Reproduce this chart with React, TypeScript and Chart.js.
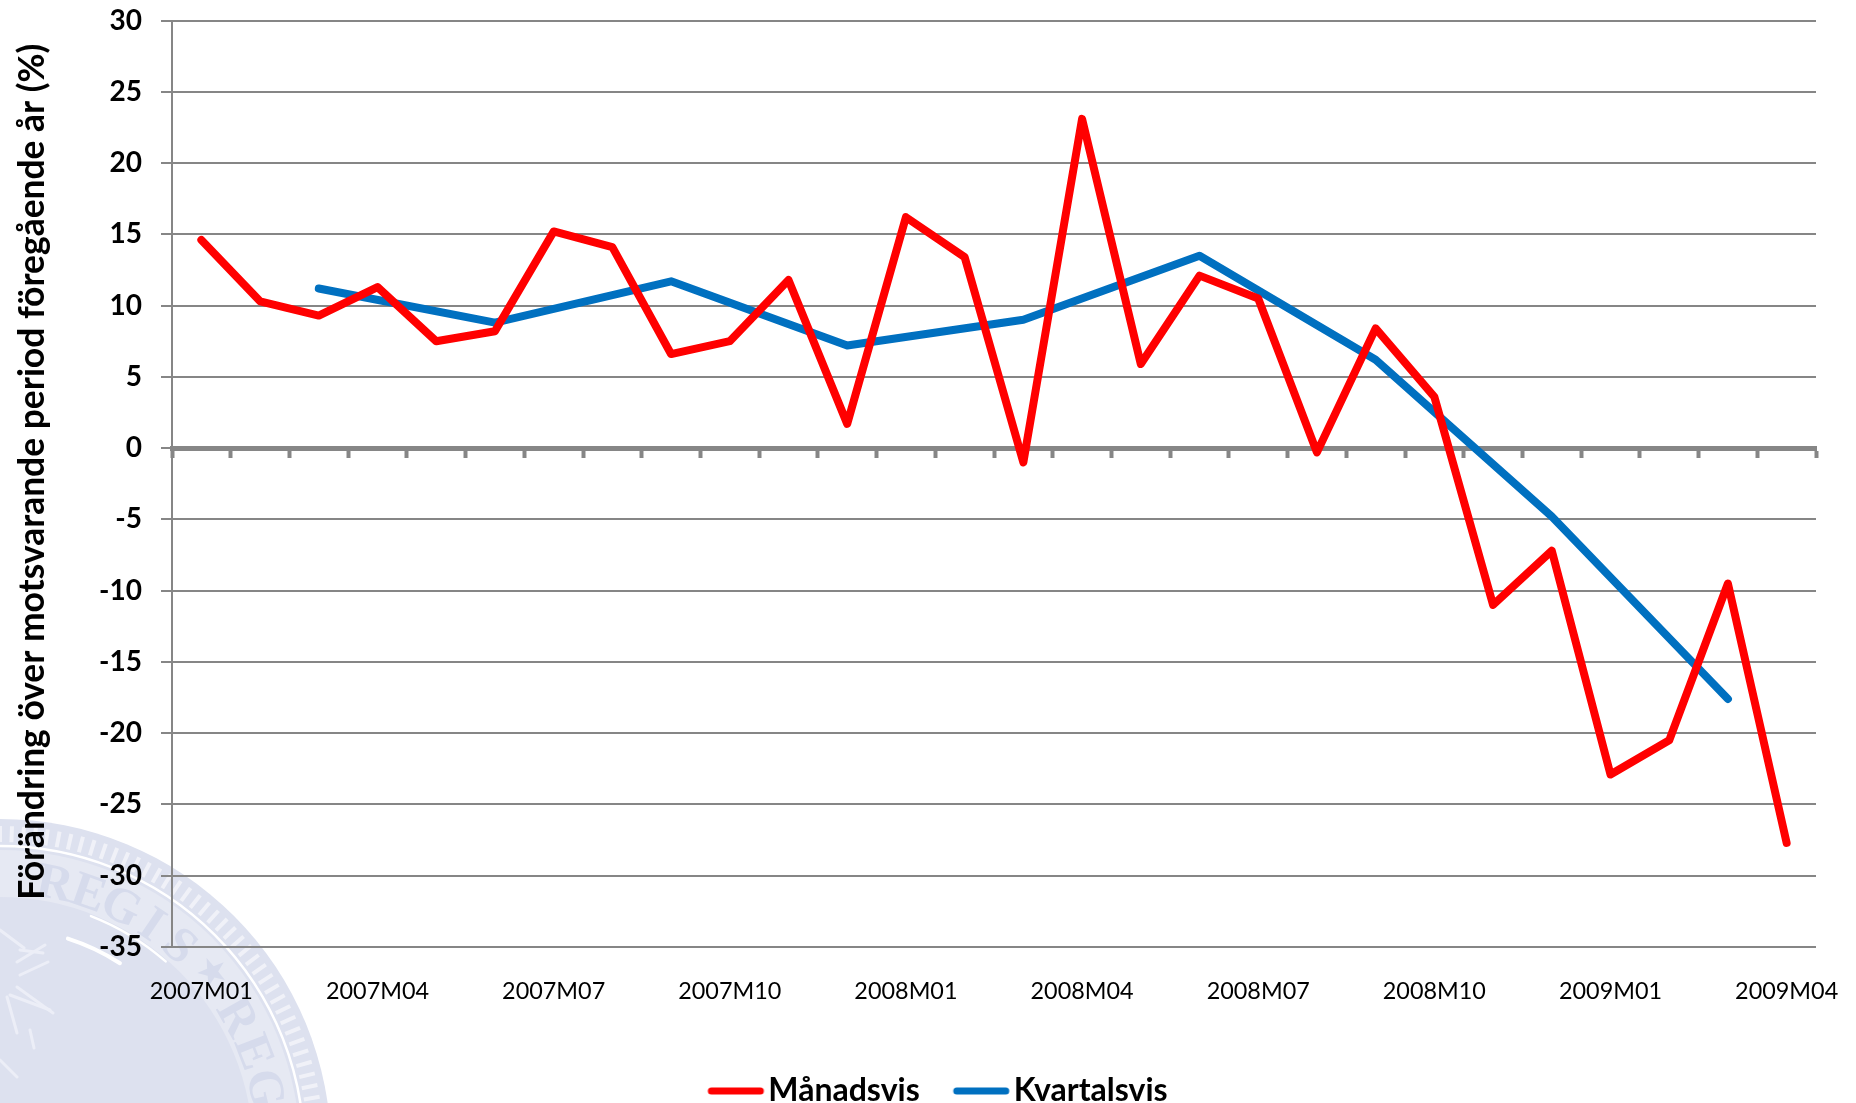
import React, { useEffect, useRef } from "react";
import { Chart, registerables } from "chart.js";

Chart.register(...registerables);

const months = [
  "2007M01","2007M02","2007M03","2007M04","2007M05","2007M06","2007M07","2007M08","2007M09","2007M10","2007M11","2007M12",
  "2008M01","2008M02","2008M03","2008M04","2008M05","2008M06","2008M07","2008M08","2008M09","2008M10","2008M11","2008M12",
  "2009M01","2009M02","2009M03","2009M04",
];
const monthly = [14.6,10.3,9.3,11.3,7.5,8.2,15.2,14.1,6.6,7.5,11.8,1.7,16.2,13.4,-1.0,23.1,5.9,12.1,10.5,-0.3,8.4,3.6,-11.0,-7.2,-22.9,-20.5,-9.5,-27.7];
const quarterly = [null,null,11.2,null,null,8.8,null,null,11.7,null,null,7.2,null,null,9.0,null,null,13.5,null,null,6.2,null,null,-4.8,null,null,-17.6,null];
const seriesNames = ["Månadsvis", "Kvartalsvis"];
const yTitle = "Förändring över motsvarande period föregående år (%)";
const sealWordTop = "REGIS";
const sealWordLower = "REG";

const GREY = "#868686";
const FONT = "Lato, 'Open Sans', sans-serif";

function arcText(ctx: CanvasRenderingContext2D, text: string, cx: number, cy: number, r: number, start: number, step: number) {
  [...text].forEach((ch, i) => {
    const a = start + i * step;
    ctx.save();
    ctx.translate(cx + r * Math.cos(a), cy + r * Math.sin(a));
    ctx.rotate(a + Math.PI / 2);
    ctx.fillText(ch, 0, 0);
    ctx.restore();
  });
}

const sealPlugin = {
  id: "seal",
  beforeDraw(chart: any) {
    const ctx: CanvasRenderingContext2D = chart.ctx;
    const cx = 0, cy = 1150;
    ctx.save();
    ctx.fillStyle = "#dde1ef";
    ctx.beginPath(); ctx.arc(cx, cy, 331, 0, Math.PI * 2); ctx.fill();
    ctx.strokeStyle = "rgba(255,255,255,0.55)";
    ctx.lineWidth = 4;
    for (let a = -Math.PI / 2; a < 0.05; a += 0.037) {
      ctx.beginPath();
      ctx.moveTo(cx + 308 * Math.cos(a), cy + 308 * Math.sin(a));
      ctx.lineTo(cx + 324 * Math.cos(a), cy + 324 * Math.sin(a));
      ctx.stroke();
    }
    ctx.strokeStyle = "#ffffff";
    ctx.lineWidth = 2.5;
    ctx.beginPath(); ctx.arc(cx, cy, 304, 0, Math.PI * 2); ctx.stroke();
    ctx.fillStyle = "#e6e9f3";
    ctx.beginPath(); ctx.arc(cx, cy, 300, 0, Math.PI * 2); ctx.fill();
    ctx.fillStyle = "#dde1ef";
    ctx.beginPath(); ctx.arc(cx, cy, 253, 0, Math.PI * 2); ctx.fill();
    ctx.fillStyle = "#d6dbec";
    ctx.font = `bold 50px 'Liberation Serif', serif`;
    ctx.textAlign = "center";
    ctx.textBaseline = "alphabetic";
    arcText(ctx, sealWordTop, cx, cy, 257, -1.368, 0.13);
    arcText(ctx, sealWordLower, cx, cy, 257, -0.511, 0.142);
    const sa = -0.698, sr = 277;
    const sx = cx + sr * Math.cos(sa), sy = cy + sr * Math.sin(sa);
    ctx.beginPath();
    for (let i = 0; i < 10; i++) {
      const r = i % 2 === 0 ? 15 : 6;
      const t = sa + (i * Math.PI) / 5;
      const px = sx + r * Math.cos(t), py = sy + r * Math.sin(t);
      if (i === 0) ctx.moveTo(px, py); else ctx.lineTo(px, py);
    }
    ctx.closePath();
    ctx.fill();
    ctx.strokeStyle = "#ffffff";
    ctx.lineCap = "round";
    ctx.lineWidth = 2.5;
    ctx.beginPath(); ctx.arc(cx, cy, 251, -1.2, -0.85); ctx.stroke();
    ctx.lineWidth = 4;
    ctx.beginPath(); ctx.arc(cx, cy, 222, -1.26, -1.0); ctx.stroke();
    ctx.strokeStyle = "#eceef7";
    ctx.lineWidth = 3;
    ([[20, 950, 43, 953], [17, 962, 45, 945], [20, 975, 48, 962], [17, 987, 53, 1013], [10, 995, 50, 1010], [7, 997, 17, 1033], [0, 1060, 17, 1077], [30, 1030, 34, 1048], [0, 930, 24, 948]] as number[][]).forEach(([a, b, c, d]) => {
      ctx.beginPath(); ctx.moveTo(a, b); ctx.lineTo(c, d); ctx.stroke();
    });
    ctx.restore();
  },
};

const layoutTweaks = {
  id: "layoutTweaks",
  afterLayout(chart: any) {
    const y = chart.scales.y;
    if (!y.__titleWrapped) {
      const orig = y.drawTitle;
      y.drawTitle = function () {
        this.bottom -= 24;
        orig.call(this);
        this.bottom += 24;
      };
      y.__titleWrapped = true;
    }
    const lg = chart.legend;
    lg.left += 30; lg.right += 30;
    lg.top += 14; lg.bottom += 14;
  },
};

function legendLine(color: string) {
  const c = document.createElement("canvas");
  c.width = 108; c.height = 12;
  const g = c.getContext("2d")!;
  g.strokeStyle = color;
  g.lineWidth = 7;
  g.lineCap = "round";
  g.beginPath(); g.moveTo(35, 6); g.lineTo(84, 6); g.stroke();
  return c;
}

export default function App() {
  const ref = useRef<HTMLCanvasElement>(null);
  useEffect(() => {
    document.body.style.margin = "0";
    const chart = new Chart(ref.current!, {
      type: "line",
      data: {
        labels: months,
        datasets: [
          { label: seriesNames[0], data: monthly, borderColor: "#ff0000", backgroundColor: "#ff0000", pointStyle: legendLine("#ff0000"), borderWidth: 8, pointRadius: 0, borderCapStyle: "round", borderJoinStyle: "round", tension: 0, xAxisID: "x" },
          { label: seriesNames[1], data: quarterly, borderColor: "#0070c0", backgroundColor: "#0070c0", pointStyle: legendLine("#0070c0"), borderWidth: 8, pointRadius: 0, borderCapStyle: "round", borderJoinStyle: "round", tension: 0, spanGaps: true, xAxisID: "x" },
        ],
      },
      options: {
        animation: false,
        responsive: false,
        layout: { padding: { top: 20.5, right: 40, left: 0, bottom: 0 } },
        plugins: {
          tooltip: { enabled: false },
          legend: {
            position: "bottom",
            labels: {
              usePointStyle: true,
              pointStyleWidth: 44,
              boxWidth: 44,
              boxHeight: 8,
              padding: 34,
              color: "#000000",
              font: { family: FONT, size: 32, weight: "bold" },
            },
          },
        },
        scales: {
          x: {
            type: "category",
            position: "bottom",
            offset: true,
            border: { display: false },
            grid: { display: false },
            ticks: {
              autoSkip: false,
              maxRotation: 0,
              padding: 22,
              color: "#000000",
              font: { family: FONT, size: 23.4 },
              callback: (_v: any, i: number) => (i % 3 === 0 ? months[i] : ""),
            },
            afterFit(s: any) { s.height = 80; s.paddingLeft = 0; s.paddingRight = 0; },
          },
          x2: {
            type: "category",
            axis: "x",
            labels: months,
            position: { y: 0 },
            offset: true,
            border: { display: true, color: GREY, width: 5 },
            grid: { drawOnChartArea: false, drawTicks: true, offset: true, tickLength: 7, tickWidth: 4, tickColor: GREY },
            ticks: { display: false, autoSkip: false },
          },
          y: {
            min: -35,
            max: 30,
            position: "left",
            border: { display: true, color: GREY, width: 2 },
            grid: { color: GREY, lineWidth: 2, tickLength: 11, tickColor: GREY },
            title: {
              display: true,
              text: yTitle,
              color: "#000000",
              font: { family: FONT, size: 35.4, weight: "bold" },
              padding: { top: 11, bottom: 0 },
            },
            ticks: {
              stepSize: 5,
              padding: 19,
              color: "#000000",
              font: { family: FONT, size: 28, weight: "bold" },
            },
            afterFit(s: any) { s.width = 172; s.paddingTop = 0; s.paddingBottom = 0; },
          },
        },
      } as any,
      plugins: [sealPlugin, layoutTweaks],
    });
    return () => chart.destroy();
  }, []);
  return (
    <div style={{ position: "absolute", left: 0, top: 0, width: 1856, height: 1103, overflow: "hidden" }}>
      <canvas ref={ref} width={1856} height={1103} style={{ display: "block" }} />
    </div>
  );
}
